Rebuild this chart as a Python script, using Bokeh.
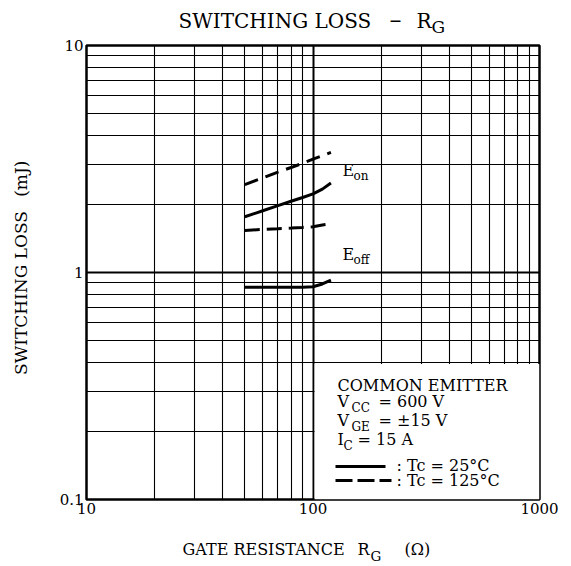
import math
from bokeh.plotting import figure
from bokeh.layouts import column, row
from bokeh.models import FixedTicker, Label
from bokeh.embed import file_html
from bokeh.resources import INLINE

# ---- data ----
rg = [50, 60, 70, 80, 90, 100, 110, 120]
eon_25 = [1.76, 1.87, 1.97, 2.06, 2.14, 2.22, 2.33, 2.48]
eon_125 = [2.44, 2.61, 2.77, 2.90, 3.03, 3.16, 3.27, 3.38]
eoff_25 = [0.86, 0.86, 0.86, 0.86, 0.86, 0.865, 0.89, 0.925]
eoff_125 = [1.53, 1.55, 1.56, 1.57, 1.58, 1.59, 1.62, 1.64]

x_ticks = [10, 100, 1000]
x_minor = [20, 30, 40, 50, 60, 70, 80, 90, 200, 300, 400, 500, 600, 700, 800, 900]
y_ticks = [0.1, 1, 10]
y_minor = [0.2, 0.3, 0.4, 0.5, 0.6, 0.7, 0.8, 0.9, 2, 3, 4, 5, 6, 7, 8, 9]
x_labels = {10: "10", 100: "100", 1000: "1000"}
y_labels = {0.1: "0.1", 1: "1", 10: "10"}

FONT = "DejaVu Serif"
SHIFT = 0.35   # measured offset of the rendered baseline, in em

# overall picture geometry (pixels)
TOTAL_W, TOTAL_H = 571, 566
FL, FR, FT, FB = 86, 539, 45, 499          # plot frame
TOP_H = 37                                  # title strip
LEFT_W = 40                                 # y-label strip
MAIN_BT, MAIN_BB = FT - TOP_H, 30           # borders of main figure
MAIN_H = MAIN_BT + (FB - FT) + MAIN_BB
BOT_H = TOTAL_H - TOP_H - MAIN_H
BOT_Y0 = TOP_H + MAIN_H


def dx(px):
    return 10 ** (1 + 2 * (px - FL) / (FR - FL))


def dy(py):
    return 10 ** (1 - 2 * (py - FT) / (FB - FT))


def strip(w, h):
    f = figure(width=w, height=h, x_range=(0, w), y_range=(0, h),
               min_border=0, x_axis_location=None, y_axis_location=None,
               output_backend="svg", toolbar_location=None)
    f.outline_line_color = None
    f.grid.visible = False
    f.title.visible = False
    f.background_fill_color = "white"
    f.border_fill_color = "white"
    return f


def put(fig, s, x, y, size, align="left", angle=0.0):
    fig.add_layout(Label(x=x, y=y, text=s, text_font=FONT,
                         text_font_size=f"{size}px", text_align=align,
                         text_baseline="alphabetic", text_color="black",
                         angle=angle))


# ---- main plot ----
p = figure(
    x_axis_type="log", y_axis_type="log",
    x_range=(10, 1000), y_range=(0.1, 10),
    frame_width=FR - FL, frame_height=FB - FT,
    min_border_left=FL - LEFT_W, min_border_top=MAIN_BT,
    min_border_right=TOTAL_W - FR, min_border_bottom=MAIN_BB,
    output_backend="svg", toolbar_location=None,
)
p.title.visible = False
p.background_fill_color = "white"
p.border_fill_color = "white"
p.outline_line_color = "black"
p.outline_line_width = 2.5

for ax, ticks, minor, labels in ((p.xaxis[0], x_ticks, x_minor, x_labels),
                                  (p.yaxis[0], y_ticks, y_minor, y_labels)):
    ax.ticker = FixedTicker(ticks=ticks, minor_ticks=minor)
    ax.major_label_overrides = labels
    ax.axis_line_color = None
    ax.major_tick_line_color = None
    ax.minor_tick_line_color = None
    ax.major_tick_in = 0
    ax.major_tick_out = 0
    ax.minor_tick_in = 0
    ax.minor_tick_out = 0
    ax.major_label_text_font = FONT
    ax.major_label_text_font_size = "15px"
    ax.major_label_text_color = "black"
    ax.major_label_standoff = 3

for g in (p.xgrid[0], p.ygrid[0]):
    g.grid_line_color = "black"
    g.grid_line_width = 2
    g.grid_line_alpha = 1
    g.minor_grid_line_color = "black"
    g.minor_grid_line_width = 1.1

# white legend panel covering the grid in the lower-right
p.quad(left=[100 * 10 ** (1.6 / 226.5)], right=[1000], bottom=[0.1],
       top=[0.4 / 10 ** (1.2 / 227)], fill_color="white", line_color=None)

# curves
p.line(rg, eon_25, line_color="black", line_width=3)
p.line(rg, eoff_25, line_color="black", line_width=3)
p.line(rg, eon_125, line_color="black", line_width=3, line_dash="14 8")
p.line(rg, eoff_125, line_color="black", line_width=3, line_dash="15 7")


def txt(s, px, py, size, align="left"):
    put(p, s, dx(px), dy(py - SHIFT * size), size, align=align)


# curve labels
txt("E", 342, 176, 16)
txt("on", 353, 180, 12)
txt("E", 342, 260, 16)
txt("off", 353, 264, 12)

# legend block
txt("COMMON EMITTER", 337, 391, 16)
txt("V", 337, 407, 16)
txt("CC", 351, 412, 12)
txt("= 600 V", 378, 407, 16)
txt("V", 337, 426, 16)
txt("GE", 351, 431, 12)
txt("= \u00b115 V", 378, 426, 16)
txt("I", 337, 445, 16)
txt("C", 343, 450, 12)
txt("= 15 A", 357, 445, 16)
txt(": Tc = 25\u00b0C", 396, 471, 16)
txt(": Tc = 125\u00b0C", 396, 486, 16)

p.line([dx(335), dx(385)], [dy(466), dy(466)], line_color="black", line_width=3)
p.line([dx(335), dx(391)], [dy(480), dy(480)], line_color="black", line_width=3,
       line_dash="17 5")


# ---- title strip ----
def ttl(s, px, py, size):
    put(top, s, px, TOP_H - py + SHIFT * size, size)


top = strip(TOTAL_W, TOP_H)
ttl("SWITCHING LOSS", 178, 27, 20)
ttl("\u2013", 389, 28, 24)
ttl("R", 416, 27, 20)
ttl("G", 431, 32, 17)

# ---- y-label strip (rotated text) ----
left = strip(LEFT_W, MAIN_H)


def ylab(s, py_start, size):
    put(left, s, 26 - SHIFT * size, MAIN_H - (py_start - TOP_H), size,
        angle=math.pi / 2)


ylab("SWITCHING LOSS", 394, 17)
ylab("(mJ)", 201, 17)

# ---- x-label strip ----
bot = strip(TOTAL_W, BOT_H)


def xl(s, px, py, size):
    put(bot, s, px, BOT_H - (py - BOT_Y0) + SHIFT * size, size)


xl("GATE RESISTANCE", 182, 555, 16)
xl("R", 357, 555, 16)
xl("G", 370, 560, 13.5)
xl("(\u03a9)", 404, 555, 16)

layout = column(top, row(left, p, spacing=0), bot, spacing=0)
open("out.html", "w").write(file_html(layout, INLINE))
